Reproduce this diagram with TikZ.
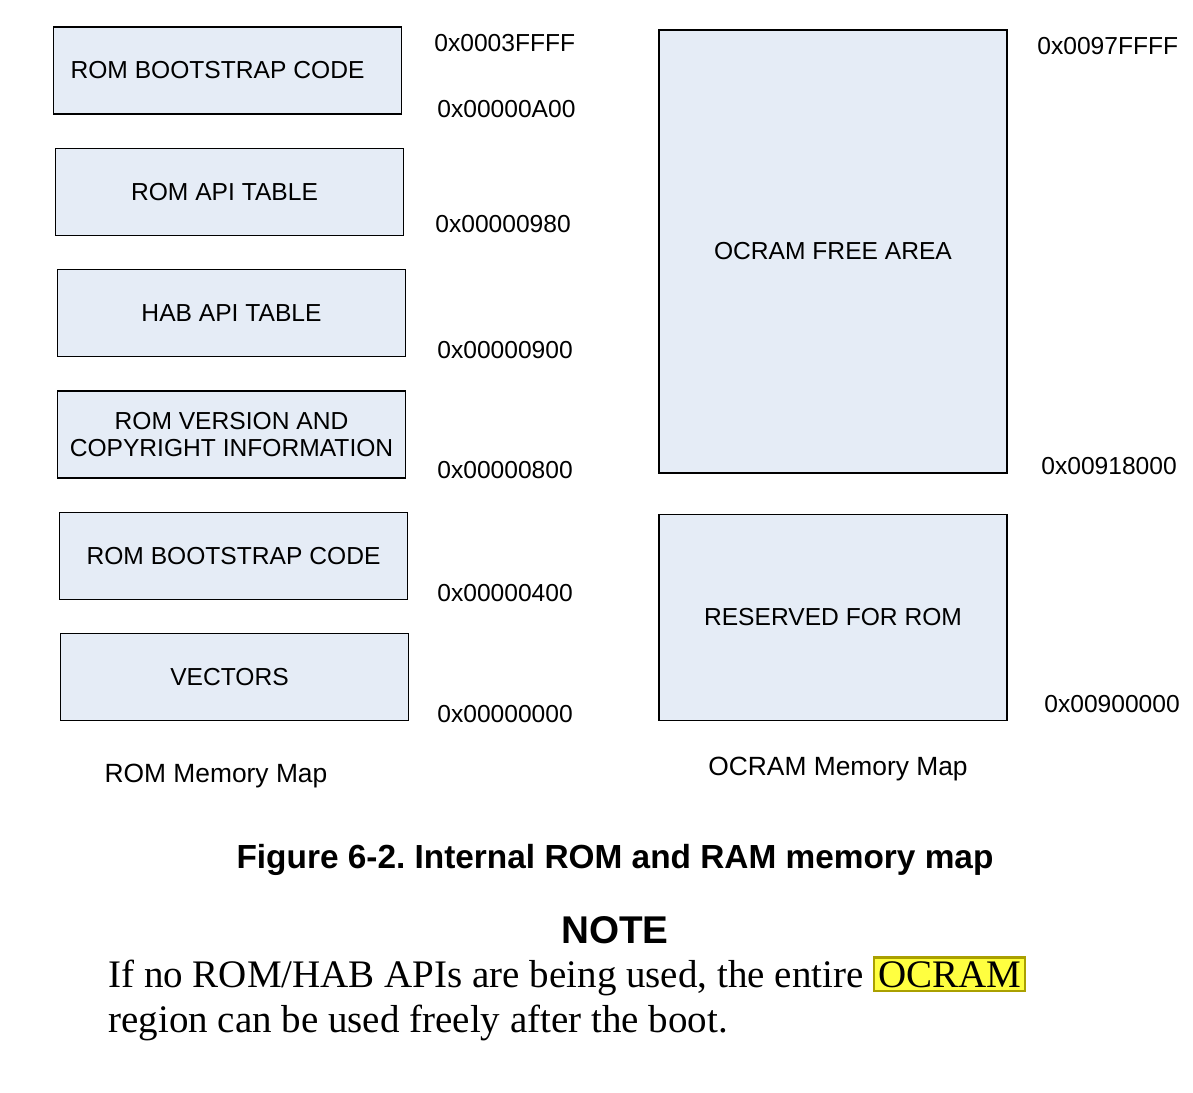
\documentclass[tikz,border=0pt]{standalone}
\usepackage{fontspec}
\setmainfont{Liberation Serif}
\setsansfont{Liberation Sans}
\usepackage{tikz}
\usetikzlibrary{positioning}
\usepackage{xcolor}
\definecolor{memfill}{RGB}{229,236,246}
\definecolor{hlyellow}{RGB}{255,255,64}
\definecolor{hlborder}{RGB}{170,160,0}
\newcommand{\lblsize}{\fontsize{14}{17}\selectfont}
\newcommand{\hlword}[1]{{\setlength{\fboxsep}{1.5pt}\setlength{\fboxrule}{1.2pt}\fcolorbox{hlborder}{hlyellow}{#1}}}
\frenchspacing

\begin{document}
\begin{tikzpicture}[
    membox/.style={rectangle, draw=black, line width=0.75pt, fill=memfill,
                   minimum width=6.96cm, font=\sffamily\lblsize, align=center, inner sep=0pt},
    romrow/.style={membox, minimum height=1.74cm},
    addr/.style={anchor=west, inner sep=0pt, font=\sffamily\lblsize},
    maptitle/.style={inner sep=0pt, font=\sffamily\fontsize{15}{18}\selectfont},
    node distance=0.66cm
]
\useasboundingbox (0,0) rectangle (23.86,-21.86);
% ROM memory map
\node[romrow] (rom1) at (4.55,-1.41) {\hspace*{-0.4cm}\raisebox{-0.06cm}{ROM BOOTSTRAP CODE}};
\node[romrow, below=of rom1, xshift=0.04cm] (romapi) {\hspace*{-0.2cm}ROM API TABLE};
\node[romrow, below=of romapi, xshift=0.04cm] (habapi) {HAB API TABLE};
\node[romrow, below=of habapi] (romver) {ROM VERSION AND\\[-2pt]COPYRIGHT INFORMATION};
\node[romrow, below=of romver, xshift=0.04cm] (rom2) {ROM BOOTSTRAP CODE};
\node[romrow, below=of rom2, xshift=0.02cm] (vectors) {\hspace*{-0.2cm}VECTORS};
\node[addr] (aromtop) at (8.68,-0.86) {0x0003FFFF};
\node[addr] (aA00) at (8.74,-2.18) {0x00000A00};
\node[addr] (a980) at (8.70,-4.48) {0x00000980};
\node[addr] (a900) at (8.74,-7.00) {0x00000900};
\node[addr] (a800) at (8.74,-9.40) {0x00000800};
\node[addr] (a400) at (8.74,-11.86) {0x00000400};
\node[addr] (a000) at (8.74,-14.28) {0x00000000};
\node[maptitle] (romtitle) at (4.32,-15.52) {ROM Memory Map};
% OCRAM memory map
\node[membox, minimum height=8.86cm] (ocfree) at (16.66,-5.03) {\raisebox{-0.1cm}{OCRAM FREE AREA}};
\node[membox, minimum height=4.12cm, below=0.8cm of ocfree] (ocrom) {RESERVED FOR ROM};
\node[addr] (aoctop) at (20.74,-0.92) {0x0097FFFF};
\node[addr] (a918) at (20.82,-9.32) {0x00918000};
\node[addr] (a900k) at (20.88,-14.08) {0x00900000};
\node[maptitle] (octitle) at (16.76,-15.38) {OCRAM Memory Map};
% caption and note
\node[inner sep=0pt, font=\sffamily\bfseries\fontsize{19}{23}\selectfont] (caption) at (12.30,-17.20) {Figure 6-2. Internal ROM and RAM memory map};
\node[inner sep=0pt, font=\sffamily\bfseries\fontsize{22}{26}\selectfont] (note) at (12.30,-18.60) {NOTE};
\node[anchor=base west, inner sep=0pt, font=\fontsize{22.2}{26}\selectfont] (line1) at (2.16,-19.74) {If no ROM/HAB APIs are being used, the entire \hlword{OCRAM}};
\node[anchor=base west, inner sep=0pt, font=\fontsize{22.2}{26}\selectfont] (line2) at (2.16,-20.64) {region can be used freely after the boot.};
\end{tikzpicture}
\end{document}
